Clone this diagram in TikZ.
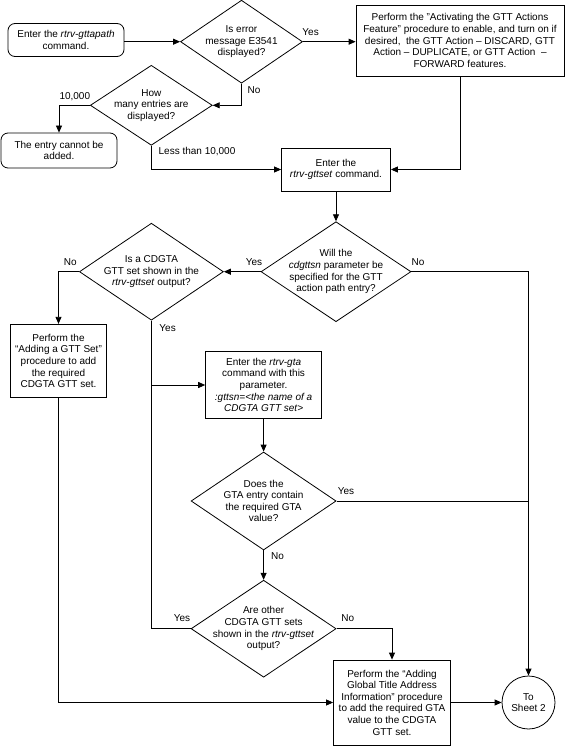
\documentclass[tikz,border=0pt]{standalone}
\usepackage{fontspec}
\setmainfont{Liberation Sans}
\usetikzlibrary{shapes.geometric,arrows.meta}
\begin{document}
\begin{tikzpicture}[x=1pt,y=-1pt,
  every node/.style={font=\fontsize{10}{11.6}\selectfont},
  box/.style={draw, line width=0.8pt, rectangle, align=center, inner sep=1pt},
  rbox/.style={box, rounded corners=7pt},
  dia/.style={draw, line width=0.8pt, diamond, inner sep=0pt},
  dtext/.style={align=center, inner sep=0pt},
  lbl/.style={inner sep=0pt},
  conn/.style={line width=0.8pt},
  arr/.style={conn, -{Triangle[length=7pt,width=6pt]}}]
\useasboundingbox (0,0) rectangle (565,746);

% nodes
\node[rbox, minimum width=116pt, minimum height=33pt] (start) at (66,40) {Enter the \textit{rtrv-gttapath}\\command.};
\node[dia, minimum width=122pt, minimum height=83pt] (d1) at (241.5,41.7) {};
\node[dtext] (d1t) at (d1.center) {Is error\\message E3541\\displayed?};
\node[box, minimum width=208pt, minimum height=71pt] (act) at (460,40.5) {Perform the "Activating the GTT Actions\\Feature" procedure to enable, and turn on if\\desired,\ \ the GTT Action -- DISCARD, GTT\\Action -- DUPLICATE, or GTT Action\ \ --\\FORWARD features.};
\node[dia, minimum width=122pt, minimum height=80pt] (d2) at (151.3,105.3) {};
\node[dtext] (d2t) at (d2.center) {How\\many entries are\\displayed?};
\node[rbox, minimum width=116pt, minimum height=35pt] (cannot) at (59,150.5) {The entry cannot be\\added.};
\node[box, minimum width=109pt, minimum height=43pt] (gttset) at (336,169.5) {Enter the\\\textit{rtrv-gttset} command.};
\node[dia, minimum width=150pt, minimum height=100pt] (d3) at (336,271.7) {};
\node[dtext] (d3t) at (d3.center) {Will the\\\textit{cdgttsn} parameter be\\specified for the GTT\\action path entry?};
\node[dia, minimum width=144pt, minimum height=97pt] (d4) at (151.4,271.7) {};
\node[dtext] (d4t) at (d4.center) {Is a CDGTA\\GTT set shown in the\\\textit{rtrv-gttset} output?};
\node[box, minimum width=95.5pt, minimum height=73.5pt] (addset) at (58.5,361) {Perform the\\``Adding a GTT Set''\\procedure to add\\the required\\CDGTA GTT set.};
\node[box, minimum width=116pt, minimum height=66.5pt] (gta) at (263.6,385) {Enter the \textit{rtrv-gta}\\command with this\\parameter.\\\textit{:gttsn=<the name of a}\\\textit{CDGTA GTT set>}};
\node[dia, minimum width=145pt, minimum height=98pt] (d5) at (263.6,501) {};
\node[dtext] (d5t) at (d5.center) {Does the\\GTA entry contain\\the required GTA\\value?};
\node[dia, minimum width=145pt, minimum height=97pt] (d6) at (263.6,628.7) {};
\node[dtext] (d6t) at (d6.center) {Are other\\CDGTA GTT sets\\shown in the \textit{rtrv-gttset}\\output?};
\node[box, minimum width=117pt, minimum height=85pt] (gtaadd) at (392,702.5) {Perform the ``Adding\\Global Title Address\\Information'' procedure\\to add the required GTA\\value to the CDGTA\\GTT set.};
\node[draw, line width=0.8pt, circle, minimum size=53pt, inner sep=0pt, align=center] (sheet) at (528.5,702.5) {To\\Sheet 2};

% labels
\node[lbl] (l1) at (310.6,31.7) {Yes};
\node[lbl] (l2) at (254,90) {No};
\node[lbl] (l3) at (74.8,96.7) {10,000};
\node[lbl] (l4) at (197,151.7) {Less than 10,000};
\node[lbl] (l5) at (254,261.7) {Yes};
\node[lbl] (l6) at (70.3,261.7) {No};
\node[lbl] (l7) at (418,261.7) {No};
\node[lbl] (l8) at (167.6,328.3) {Yes};
\node[lbl] (l9) at (346,490.7) {Yes};
\node[lbl] (l10) at (277.5,556) {No};
\node[lbl] (l11) at (182,618.3) {Yes};
\node[lbl] (l12) at (347.7,618.3) {No};

% connectors
\draw[arr] (start.east |- d1.west) -- (d1.west);
\draw[arr] (d1.east) -- (d1.east -| act.west);
\draw[arr] (d1.south) -- (d1.south |- d2.east) -- (d2.east);
\draw[arr] (d2.west) -- (cannot.north |- d2.west) -- (cannot.north);
\draw[arr] (d2.south) -- (d2.south |- gttset.west) -- (gttset.west);
\draw[arr] (act.south) -- (act.south |- gttset.east) -- (gttset.east);
\draw[arr] (gttset.south) -- (d3.north);
\draw[arr] (d3.west) -- (d4.east);
\draw[arr] (d4.west) -- (addset.north |- d4.west) -- (addset.north);
\draw[arr] (d3.east) -- (sheet.north |- d3.east) -- (sheet.north);
\draw[arr] (d4.south) -- (d4.south |- gta.west) -- (gta.west);
\draw[conn] (d6.west) -- (d4.south |- d6.west) -- (d4.south |- gta.west);
\draw[arr] (gta.south) -- (d5.north);
\draw[conn] (d5.east) -- (sheet.north |- d5.east);
\draw[arr] (d5.south) -- (d6.north);
\draw[arr] (d6.east) -- (gtaadd.north |- d6.east) -- (gtaadd.north);
\draw[arr] (addset.south) -- (addset.south |- gtaadd.west) -- (gtaadd.west);
\draw[arr] (gtaadd.east) -- (sheet.west);
\end{tikzpicture}
\end{document}
